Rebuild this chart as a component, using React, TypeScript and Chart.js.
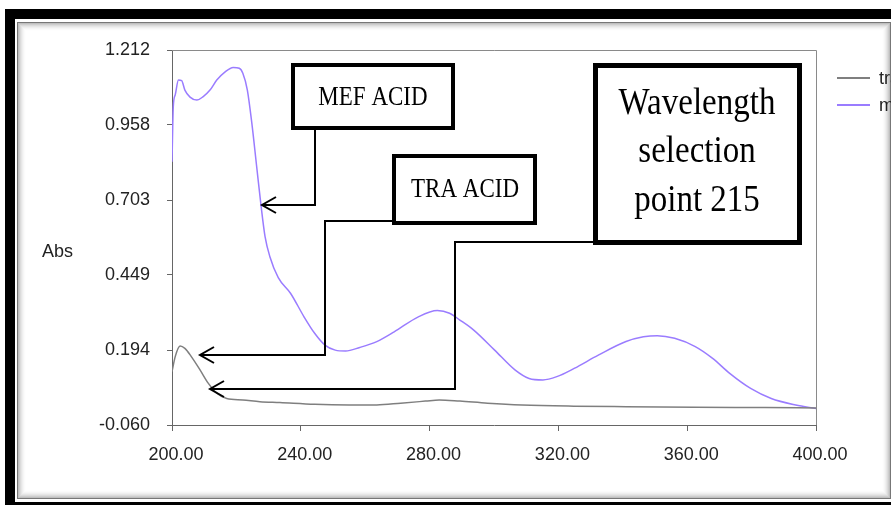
import React, { useEffect, useRef } from "react";
import { Chart, registerables } from "chart.js";

Chart.register(...registerables);

// ---- data ----
const mefWavelength = [200, 200.4, 201, 202, 203, 204, 205.6, 207.7, 209.7, 211.8, 213.9, 216.5, 219, 220.9, 222, 223.4, 224.8, 226.3, 227.6, 228.9, 230.4, 233, 236.8, 241, 244.3, 247.5, 250.7, 253.9, 258.3, 263.6, 269, 276.5, 282.4, 286.2, 289.4, 293.7, 300.2, 306.6, 310.9, 315.2, 319.5, 324.9, 332.4, 341, 346.4, 350.7, 356.1, 362.5, 367.9, 373.2, 379.7, 386.1, 393.7, 400];
const mefAbs = [0.833, 1.02, 1.06, 1.11, 1.108, 1.076, 1.052, 1.042, 1.054, 1.076, 1.11, 1.138, 1.153, 1.15, 1.133, 1.076, 0.963, 0.816, 0.689, 0.579, 0.511, 0.44, 0.387, 0.307, 0.251, 0.211, 0.194, 0.191, 0.203, 0.223, 0.256, 0.307, 0.328, 0.319, 0.296, 0.262, 0.194, 0.126, 0.098, 0.093, 0.104, 0.132, 0.177, 0.223, 0.239, 0.243, 0.234, 0.206, 0.166, 0.115, 0.064, 0.03, 0.008, -0.004];

const traWavelength = [200, 201, 202.5, 204, 206, 208.7, 211.3, 213.9, 217, 222, 227.3, 233.5, 244.3, 255, 263.6, 271, 278.7, 283, 289.4, 298, 308.7, 324.8, 341, 362.5, 384, 400];
const traAbs = [0.121, 0.172, 0.208, 0.2, 0.172, 0.127, 0.081, 0.048, 0.03, 0.025, 0.019, 0.016, 0.01, 0.008, 0.008, 0.014, 0.021, 0.025, 0.021, 0.014, 0.008, 0.004, 0.002, 0.0, -0.001, -0.002];

const xTicks = [200, 240, 280, 320, 360, 400];
const yTicks = [-0.06, 0.194, 0.449, 0.703, 0.958, 1.212];
const seriesNames = ["tra", "mef"];
const yTitle = "Abs";
const labelMef = "MEF ACID";
const labelTra = "TRA ACID";
const labelWave = ["Wavelength", "selection", "point 215"];

const GRAY = "#7f7f7f";
const PURPLE = "#9a7cff";
const SANS = "'Liberation Sans', Arial, sans-serif";
const SERIF = "'Liberation Serif', 'Times New Roman', serif";

function arrowLeft(ctx: CanvasRenderingContext2D, x: number, y: number) {
  ctx.beginPath();
  ctx.moveTo(x + 14, y - 8);
  ctx.lineTo(x, y);
  ctx.lineTo(x + 14, y + 8);
  ctx.stroke();
}

function stretchedText(ctx: CanvasRenderingContext2D, text: string, x: number, y: number, size: number, sy: number) {
  ctx.save();
  ctx.translate(x, y);
  ctx.scale(1, sy);
  ctx.font = `${size}px ${SERIF}`;
  ctx.textAlign = "center";
  ctx.textBaseline = "alphabetic";
  ctx.fillStyle = "#000";
  ctx.fillText(text, 0, 0);
  ctx.restore();
}

const framePlugin = {
  id: "frame",
  beforeDraw(chart: any) {
    const ctx = chart.ctx as CanvasRenderingContext2D;
    const W = chart.width, H = chart.height;
    ctx.save();
    ctx.fillStyle = "#fff";
    ctx.fillRect(0, 0, W, H);
    // outer black frame
    ctx.fillStyle = "#000";
    ctx.fillRect(5, 9, 10, H - 9);
    ctx.fillRect(5, 9, W - 5, 10);
    ctx.fillRect(5, 502, W - 5, 3);
    // inner panel with soft inset shadow
    const x0 = 17, y0 = 22, x1 = 890, y1 = 498;
    for (let i = 0; i < 9; i++) {
      ctx.strokeStyle = `rgba(0,0,0,${0.32 * (1 - i / 9) * (1 - i / 9)})`;
      ctx.lineWidth = 1;
      ctx.strokeRect(x0 + i + 0.5, y0 + i + 0.5, x1 - x0 - 2 * i, y1 - y0 - 2 * i);
    }
    ctx.strokeStyle = "#777";
    ctx.strokeRect(x0 + 0.5, y0 + 0.5, x1 - x0, y1 - y0);
    ctx.restore();
  },
  afterDraw(chart: any) {
    const ctx = chart.ctx as CanvasRenderingContext2D;
    const a = chart.chartArea;
    ctx.save();
    // plot box top/right
    ctx.strokeStyle = "#8a8a8a";
    ctx.lineWidth = 1;
    ctx.beginPath();
    ctx.moveTo(a.left, a.top + 0.5);
    ctx.lineTo(a.right + 0.5, a.top + 0.5);
    ctx.lineTo(a.right + 0.5, a.bottom);
    ctx.stroke();

    // y title
    ctx.fillStyle = "#222";
    ctx.font = `18px ${SANS}`;
    ctx.textAlign = "left";
    ctx.textBaseline = "alphabetic";
    ctx.fillText(yTitle, 42, 257);

    // legend
    ctx.lineWidth = 2;
    ctx.strokeStyle = GRAY;
    ctx.beginPath(); ctx.moveTo(837, 78); ctx.lineTo(870, 78); ctx.stroke();
    ctx.strokeStyle = PURPLE;
    ctx.beginPath(); ctx.moveTo(837, 105); ctx.lineTo(870, 105); ctx.stroke();
    ctx.fillStyle = "#222";
    ctx.fillText(seriesNames[0], 879, 84);
    ctx.fillText(seriesNames[1], 879, 111);

    // connectors
    ctx.strokeStyle = "#000";
    ctx.lineWidth = 2;
    ctx.beginPath();
    ctx.moveTo(315, 128); ctx.lineTo(315, 205); ctx.lineTo(262, 205);
    ctx.stroke();
    arrowLeft(ctx, 262, 205);
    ctx.beginPath();
    ctx.moveTo(394, 221); ctx.lineTo(325, 221); ctx.lineTo(325, 355); ctx.lineTo(200, 355);
    ctx.stroke();
    arrowLeft(ctx, 200, 355);
    ctx.beginPath();
    ctx.moveTo(595, 242); ctx.lineTo(455, 242); ctx.lineTo(455, 389); ctx.lineTo(210, 389);
    ctx.stroke();
    arrowLeft(ctx, 210, 389);

    // boxes
    ctx.fillStyle = "#fff";
    ctx.strokeStyle = "#000";
    ctx.lineWidth = 4;
    ctx.fillRect(293, 65, 160, 63); ctx.strokeRect(293, 65, 160, 63);
    ctx.fillRect(394, 156, 141, 67); ctx.strokeRect(394, 156, 141, 67);
    ctx.lineWidth = 5;
    ctx.fillRect(595.5, 65.5, 204, 177); ctx.strokeRect(595.5, 65.5, 204, 177);

    stretchedText(ctx, labelMef, 373, 105, 23, 1.2);
    stretchedText(ctx, labelTra, 465, 197, 23, 1.2);
    stretchedText(ctx, labelWave[0], 697, 114, 33, 1.12);
    stretchedText(ctx, labelWave[1], 697, 162, 33, 1.12);
    stretchedText(ctx, labelWave[2], 697, 211, 33, 1.12);
    ctx.restore();
  },
};

export default function App() {
  const ref = useRef<HTMLCanvasElement | null>(null);
  useEffect(() => {
    if (!ref.current) return;
    const chart = new Chart(ref.current, {
      type: "line",
      data: {
        datasets: [
          {
            label: seriesNames[0],
            data: traWavelength.map((x, i) => ({ x, y: traAbs[i] })),
            borderColor: GRAY,
            borderWidth: 1.5,
            pointRadius: 0,
            cubicInterpolationMode: "monotone",
          },
          {
            label: seriesNames[1],
            data: mefWavelength.map((x, i) => ({ x, y: mefAbs[i] })),
            borderColor: PURPLE,
            borderWidth: 1.5,
            pointRadius: 0,
            cubicInterpolationMode: "monotone",
          },
        ],
      },
      options: {
        responsive: false,
        animation: false,
        devicePixelRatio: 1,
        layout: { padding: { left: 0, top: 50, right: 75, bottom: 0 } },
        plugins: { legend: { display: false }, tooltip: { enabled: false } },
        scales: {
          x: {
            type: "linear",
            min: 200,
            max: 400,
            afterBuildTicks: (s: any) => { s.ticks = xTicks.map((v) => ({ value: v })); },
            afterFit: (s: any) => { s.height = 80; },
            ticks: {
              callback: (v: any) => Number(v).toFixed(2),
              color: "#222",
              font: { family: SANS, size: 18 },
              padding: 13,
              labelOffset: 4,
              maxRotation: 0,
            },
            grid: { drawOnChartArea: false, drawTicks: true, tickLength: 6, color: "#666" },
            border: { display: true, color: "#666" },
          },
          y: {
            type: "linear",
            min: -0.06,
            max: 1.212,
            afterBuildTicks: (s: any) => { s.ticks = yTicks.map((v) => ({ value: v })); },
            afterFit: (s: any) => { s.width = 172; },
            ticks: {
              callback: (v: any) => Number(v).toFixed(3),
              color: "#222",
              font: { family: SANS, size: 18 },
              padding: 17,
            },
            grid: { drawOnChartArea: false, drawTicks: true, tickLength: 5, color: "#666" },
            border: { display: true, color: "#666" },
          },
        },
      },
      plugins: [framePlugin],
    } as any);
    return () => chart.destroy();
  }, []);
  return (
    <div style={{ position: "fixed", left: 0, top: 0, width: 891, height: 505 }}>
      <canvas ref={ref} width={891} height={505} style={{ display: "block" }} />
    </div>
  );
}
